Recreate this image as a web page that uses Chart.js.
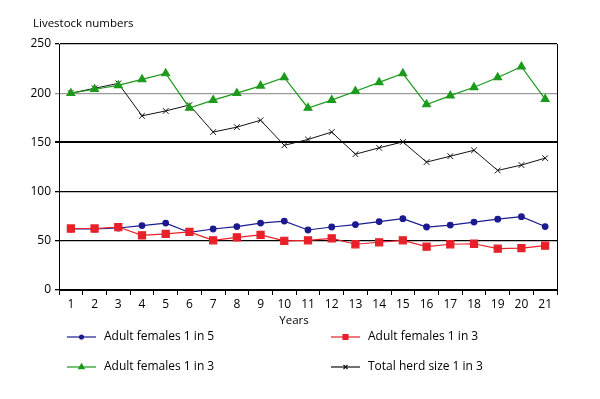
<!DOCTYPE html>
<html>
<head>
<meta charset="utf-8">
<script src="https://cdn.jsdelivr.net/npm/chart.js@4.4.1/dist/chart.umd.min.js"></script>
<style>
  html, body { margin: 0; padding: 0; background: #fff; }
  #wrap { position: relative; width: 600px; height: 399px; }
</style>
</head>
<body>
<div id="wrap"><canvas id="herdChart"></canvas></div>
<script>
const years = ['1','2','3','4','5','6','7','8','9','10','11','12','13','14','15','16','17','18','19','20','21'];
const females1in5 = [62, 62, 63, 65.5, 68, 58.5, 62, 64.5, 68, 70, 61, 64, 66.5, 69.5, 72.5, 64, 66, 69, 72, 74.5, 64.5];
const females1in3 = [62.5, 62.5, 64, 55.5, 57, 59, 50.5, 53.5, 56, 50, 50.5, 52.5, 46.5, 48.5, 50.5, 44, 46.5, 47, 42, 42.5, 45];
const femalesGreen1in3 = [200, 204, 208, 214, 220, 185, 193, 200, 207.5, 216, 185, 193, 202, 211, 220, 188.5, 197.5, 206, 216, 227, 194];
const totalHerd1in3 = [200, 205, 210, 177, 182, 188, 160.5, 165.5, 172.5, 147, 153, 160.5, 138, 144.5, 150.5, 130, 136, 142, 121.5, 127, 134];
const yTicks = [0, 50, 100, 150, 200, 250];

const FONT = '"Open Sans", "Liberation Sans", sans-serif';

const extras = {
    id: 'extras',
    afterDraw(chart) {
        const ctx = chart.ctx;
        const area = chart.chartArea;
        ctx.save();
        // right frame line
        ctx.strokeStyle = '#000';
        ctx.lineWidth = 1;
        ctx.beginPath();
        ctx.moveTo(area.right + 0.5, area.top);
        ctx.lineTo(area.right + 0.5, area.bottom);
        ctx.stroke();

        ctx.fillStyle = '#000';
        ctx.font = '11.5px ' + FONT;
        ctx.textBaseline = 'middle';
        ctx.textAlign = 'left';
        ctx.fillText('Livestock numbers', area.left - 26, area.top - 20);
        ctx.textAlign = 'center';
        ctx.fillText('Years', area.left + (area.right - area.left) / 2 - 14, area.bottom + 31);

        // legend, two columns
        const cols = [67, 331];
        const rows = [337, 367];
        const slots = [[0, 0], [1, 0], [0, 1], [1, 1]];
        chart.data.datasets.forEach((ds, i) => {
            const x = cols[slots[i][0]];
            const y = rows[slots[i][1]];
            ctx.strokeStyle = ds.borderColor;
            ctx.lineWidth = 1.2;
            ctx.beginPath();
            ctx.moveTo(x, y);
            ctx.lineTo(x + 29, y);
            ctx.stroke();
            ctx.fillStyle = ds.pointBackgroundColor;
            ctx.strokeStyle = ds.pointBorderColor;
            Chart.helpers.drawPoint(ctx, {
                pointStyle: ds.pointStyle,
                radius: ds.pointRadius * 0.7,
                borderWidth: 1
            }, x + 14.5, y);
            ctx.fillStyle = '#000';
            ctx.textAlign = 'left';
            ctx.font = '12px ' + FONT;
            ctx.fillText(ds.label, x + 37, y);
        });
        ctx.restore();
    }
};

const ctx = document.getElementById('herdChart').getContext('2d');
new Chart(ctx, {
    type: 'line',
    data: {
        labels: years,
        datasets: [
            {
                label: 'Adult females 1 in 5',
                data: females1in5,
                borderColor: '#1b1b8f',
                backgroundColor: '#1b1b8f',
                pointBackgroundColor: '#1b1b8f',
                pointBorderColor: '#1b1b8f',
                pointStyle: 'circle',
                pointRadius: 2.8,
                borderWidth: 1.2,
                order: 2
            },
            {
                label: 'Adult females 1 in 3',
                data: females1in3,
                borderColor: '#e8202a',
                backgroundColor: '#e8202a',
                pointBackgroundColor: '#e8202a',
                pointBorderColor: '#e8202a',
                pointStyle: 'rect',
                pointRadius: 5,
                borderWidth: 1.2,
                order: 0
            },
            {
                label: 'Adult females 1 in 3',
                data: femalesGreen1in3,
                borderColor: '#1c9a1c',
                backgroundColor: '#1c9a1c',
                pointBackgroundColor: '#1c9a1c',
                pointBorderColor: '#1c9a1c',
                pointStyle: 'triangle',
                pointRadius: 4.5,
                borderWidth: 1.2,
                order: 1
            },
            {
                label: 'Total herd size 1 in 3',
                data: totalHerd1in3,
                borderColor: '#111',
                backgroundColor: '#111',
                pointBackgroundColor: '#111',
                pointBorderColor: '#111',
                pointStyle: 'crossRot',
                pointRadius: 4,
                borderWidth: 1,
                order: 3
            }
        ]
    },
    options: {
        responsive: true,
        maintainAspectRatio: false,
        animation: false,
        layout: { padding: { left: 0, right: 43, top: 44, bottom: 0 } },
        plugins: {
            legend: { display: false },
            tooltip: { enabled: false }
        },
        scales: {
            x: {
                offset: true,
                grid: {
                    offset: true,
                    drawOnChartArea: false,
                    drawTicks: true,
                    tickLength: 5,
                    color: '#000',
                    lineWidth: 1
                },
                border: { display: true, color: '#000', width: 1 },
                ticks: {
                    color: '#000',
                    font: { family: FONT, size: 12 },
                    padding: 2,
                    maxRotation: 0,
                    autoSkip: false
                },
                afterFit(scale) { scale.height = 109; }
            },
            y: {
                min: 0,
                max: 250,
                afterBuildTicks(scale) { scale.ticks = yTicks.map(v => ({ value: v })); },
                grid: {
                    color: c => c.tick && c.tick.value === 200 ? '#9a9a9a' : '#000',
                    lineWidth: c => c.tick && c.tick.value === 150 ? 2 : 1.3,
                    tickLength: 4,
                    drawTicks: true
                },
                border: { display: true, color: '#000', width: 1 },
                ticks: {
                    color: '#000',
                    font: { family: FONT, size: 12 },
                    padding: 4
                },
                afterFit(scale) { scale.width = 59; }
            }
        }
    },
    plugins: [extras]
});
</script>
</body>
</html>
